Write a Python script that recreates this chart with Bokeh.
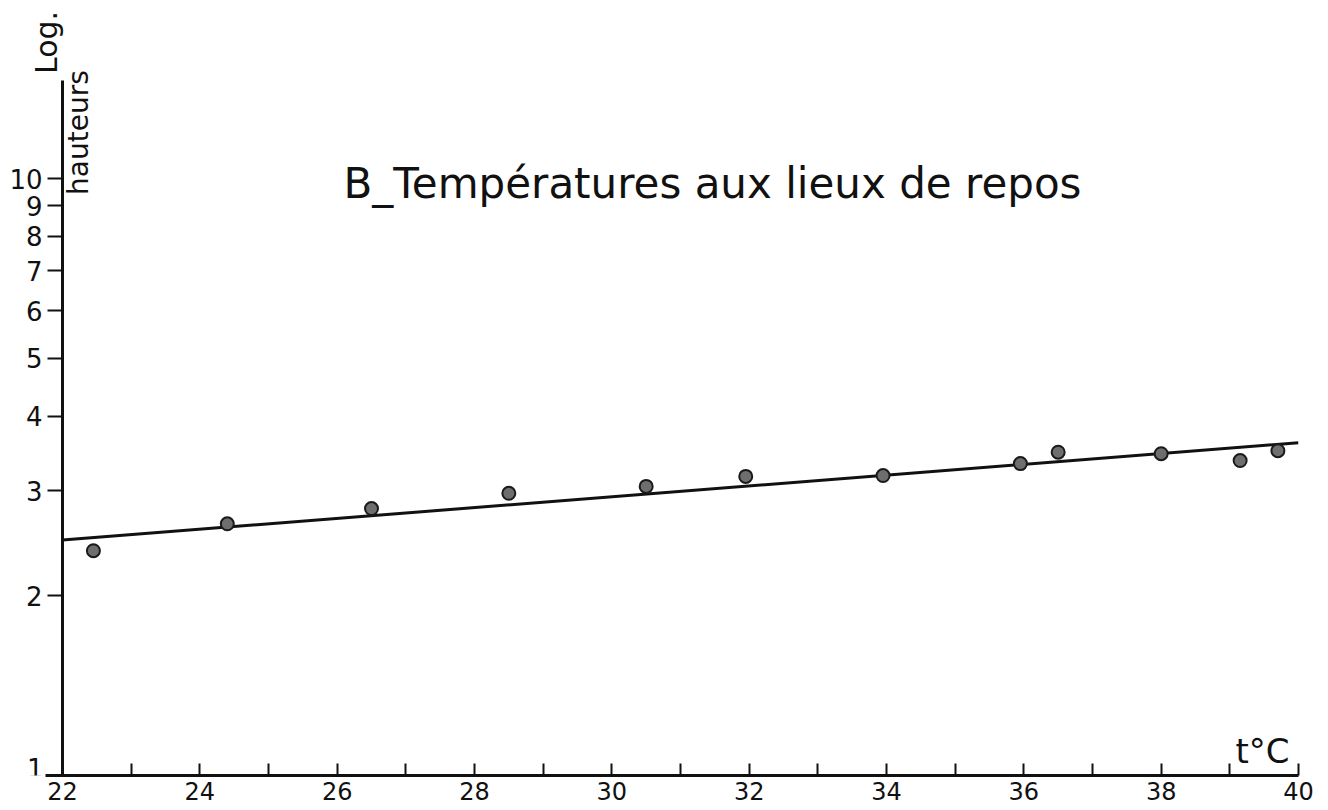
import math
from bokeh.plotting import figure
from bokeh.models import FixedTicker, Label, Range1d
from bokeh.embed import file_html
from bokeh.resources import INLINE

# ---- data ----
temps = [22.45, 24.4, 26.5, 28.5, 30.5, 31.95, 33.95, 35.95, 36.5, 38.0, 39.15, 39.7]
heights = [2.38, 2.64, 2.80, 2.97, 3.05, 3.17, 3.18, 3.33, 3.48, 3.46, 3.37, 3.50]
fit_x = [22, 40]
fit_y = [2.48, 3.61]
x_major = [22, 24, 26, 28, 30, 32, 34, 36, 38, 40]
x_minor = [23, 25, 27, 29, 31, 33, 35, 37, 39]
y_ticks = [1, 2, 3, 4, 5, 6, 7, 8, 9, 10]
title_text = "B_Températures aux lieux de repos"

FONT = "DejaVu Sans"

p = figure(width=1320, height=810, y_axis_type="log",
           x_range=Range1d(21.097, 40), y_range=Range1d(1, 19.87),
           output_backend="svg", toolbar_location=None,
           min_border_left=0, min_border_right=22, min_border_top=0,
           min_border_bottom=35)
p.outline_line_color = None
p.xgrid.grid_line_color = None
p.ygrid.grid_line_color = None
p.background_fill_color = "white"

# x axis
xa = p.xaxis[0]
xa.ticker = FixedTicker(ticks=x_major, minor_ticks=x_minor)
xa.bounds = (21.75, 40)
xa.axis_line_width = 3
xa.axis_line_color = "#111111"
xa.major_tick_in = 12
xa.major_tick_out = 0
xa.minor_tick_in = 12
xa.minor_tick_out = 0
xa.major_tick_line_width = 2
xa.minor_tick_line_width = 2
xa.major_tick_line_color = "#111111"
xa.minor_tick_line_color = "#111111"
xa.major_label_text_font = FONT
xa.major_label_text_font_size = "24px"
xa.major_label_text_color = "#111111"
xa.major_label_standoff = 6

# y axis, drawn at t = 22 inside the frame
ya = p.yaxis[0]
ya.fixed_location = 22
ya.ticker = FixedTicker(ticks=y_ticks)
labels = {t: str(t) for t in y_ticks}
labels[1] = ""  # the "1" sits just above the base line, drawn below
ya.major_label_overrides = labels
ya.bounds = (1, 14.6)
ya.axis_line_width = 3
ya.axis_line_color = "#111111"
ya.major_tick_in = 0
ya.major_tick_out = 15
ya.minor_tick_in = 0
ya.minor_tick_out = 0
ya.major_tick_line_width = 2
ya.major_tick_line_color = "#111111"
ya.major_label_text_font = FONT
ya.major_label_text_font_size = "26px"
ya.major_label_text_color = "#111111"
ya.major_label_standoff = 5

# fitted line and points
p.line(fit_x, fit_y, line_color="#111111", line_width=3)
p.scatter(temps, heights, size=13, fill_color="#6e6e6e",
          line_color="#1a1a1a", line_width=2)

# texts
p.add_layout(Label(x=21.723, y=1.03, text=str(y_ticks[0]), text_font=FONT,
                   text_font_size="26px", text_color="#111111",
                   text_align="right", text_baseline="alphabetic"))
p.add_layout(Label(x=31.466, y=9.81, text=title_text, text_font=FONT,
                   text_font_size="42px", text_color="#111111",
                   text_align="center", text_baseline="middle"))
p.add_layout(Label(x=39.475, y=1.101, text="t°C", text_font=FONT,
                   text_font_size="34px", text_color="#111111",
                   text_align="center", text_baseline="middle"))
p.add_layout(Label(x=21.767, y=16.9, text="Log.", text_font=FONT,
                   text_font_size="30px", text_color="#111111",
                   angle=math.pi / 2, text_align="center",
                   text_baseline="middle"))
p.add_layout(Label(x=22.233, y=11.94, text="hauteurs", text_font=FONT,
                   text_font_size="28px", text_color="#111111",
                   angle=math.pi / 2, text_align="center",
                   text_baseline="middle"))

open("out.html", "w").write(file_html(p, INLINE))
